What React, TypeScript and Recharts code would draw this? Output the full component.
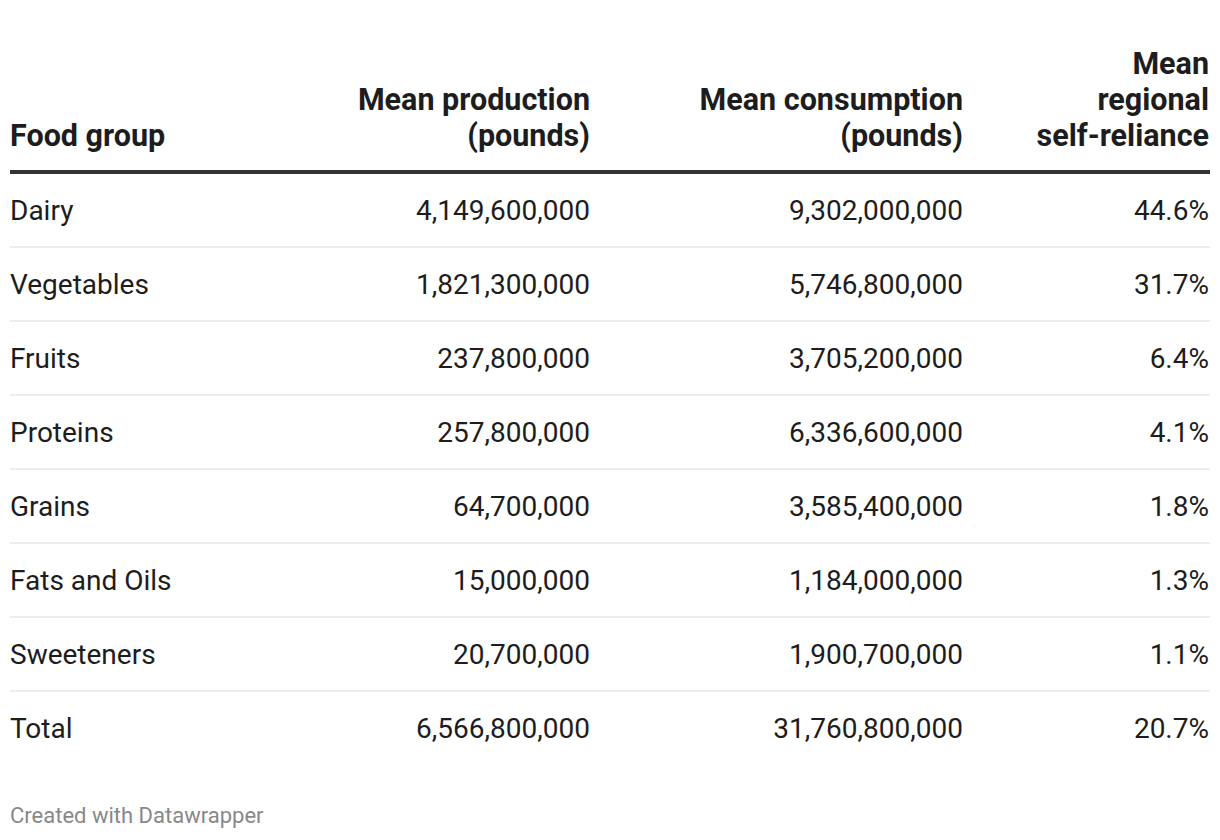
import React from "react";
import { BarChart, Bar, XAxis, YAxis } from "recharts";

const groups = ["Dairy", "Vegetables", "Fruits", "Proteins", "Grains", "Fats and Oils", "Sweeteners", "Total"];
const production = [4149600000, 1821300000, 237800000, 257800000, 64700000, 15000000, 20700000, 6566800000];
const consumption = [9302000000, 5746800000, 3705200000, 6336600000, 3585400000, 1184000000, 1900700000, 31760800000];
const selfReliance = [44.6, 31.7, 6.4, 4.1, 1.8, 1.3, 1.1, 20.7];

const headers = [
  { lines: ["Food group"], right: false },
  { lines: ["Mean production", "(pounds)"], right: true },
  { lines: ["Mean consumption", "(pounds)"], right: true },
  { lines: ["Mean", "regional", "self-reliance"], right: true },
];

const rows = groups.map((group, i) => ({
  group,
  production: production[i],
  consumption: consumption[i],
  selfReliance: selfReliance[i],
}));

const W = 1220;
const H = 840;
const TOP = 173;
const ROW_H = 74;
const FONT = "Roboto, 'Noto Sans', sans-serif";
const TEXT = "#1d1d1d";
// right edges of the columns (first column is left aligned)
const COL_X = [10, 590, 963, 1209];

const fmt = (n: number) => n.toLocaleString("en-US");

function RowTick(props: any) {
  const { y, payload, index } = props;
  const d = rows[index] ?? rows.find((r) => r.group === payload.value);
  if (!d) return null;
  const last = index === rows.length - 1;
  const base = y + 10;
  return (
    <g>
      <text x={COL_X[0]} y={base} fontSize={28} fontFamily={FONT} fill={TEXT}>
        {d.group}
      </text>
      <text x={COL_X[1]} y={base} fontSize={28} fontFamily={FONT} fill={TEXT} textAnchor="end">
        {fmt(d.production)}
      </text>
      <text x={COL_X[2]} y={base} fontSize={28} fontFamily={FONT} fill={TEXT} textAnchor="end">
        {fmt(d.consumption)}
      </text>
      <text x={COL_X[3]} y={base} fontSize={28} fontFamily={FONT} fill={TEXT} textAnchor="end">
        {d.selfReliance.toFixed(1)}%
      </text>
      {!last && (
        <line x1={10} x2={1210} y1={y + ROW_H / 2} y2={y + ROW_H / 2} stroke="#ececec" strokeWidth={2} />
      )}
    </g>
  );
}

export default function App() {
  return (
    <div style={{ position: "absolute", left: 0, top: 0, width: W, height: H, background: "#fff", fontFamily: FONT }}>
      {headers.map((h, i) => (
        <div
          key={i}
          style={{
            position: "absolute",
            top: 0,
            height: 154,
            display: "flex",
            flexDirection: "column",
            justifyContent: "flex-end",
            left: h.right ? undefined : COL_X[i],
            right: h.right ? W - COL_X[i] : undefined,
            textAlign: h.right ? "right" : "left",
            fontWeight: 700,
            fontSize: 30.5,
            lineHeight: "36px",
            color: TEXT,
            whiteSpace: "nowrap",
          }}
        >
          {h.lines.map((l) => (
            <div key={l}>{l}</div>
          ))}
        </div>
      ))}
      <div style={{ position: "absolute", left: 10, top: 170, width: 1200, height: 4, background: "#333" }} />
      <div style={{ position: "absolute", left: 0, top: 0 }}>
        <BarChart
          width={W}
          height={H}
          data={rows}
          layout="vertical"
          margin={{ top: TOP, right: 10, bottom: H - TOP - ROW_H * rows.length, left: 0 }}
        >
          <XAxis type="number" hide />
          <YAxis
            type="category"
            dataKey="group"
            width={10}
            axisLine={false}
            tickLine={false}
            interval={0}
            tick={<RowTick />}
          />
          <Bar dataKey="selfReliance" fill="transparent" isAnimationActive={false} />
        </BarChart>
      </div>
      <div
        style={{
          position: "absolute",
          left: 10,
          top: 805,
          fontSize: 22,
          lineHeight: "22px",
          color: "#888",
          whiteSpace: "nowrap",
        }}
      >
        Created with Datawrapper
      </div>
    </div>
  );
}
